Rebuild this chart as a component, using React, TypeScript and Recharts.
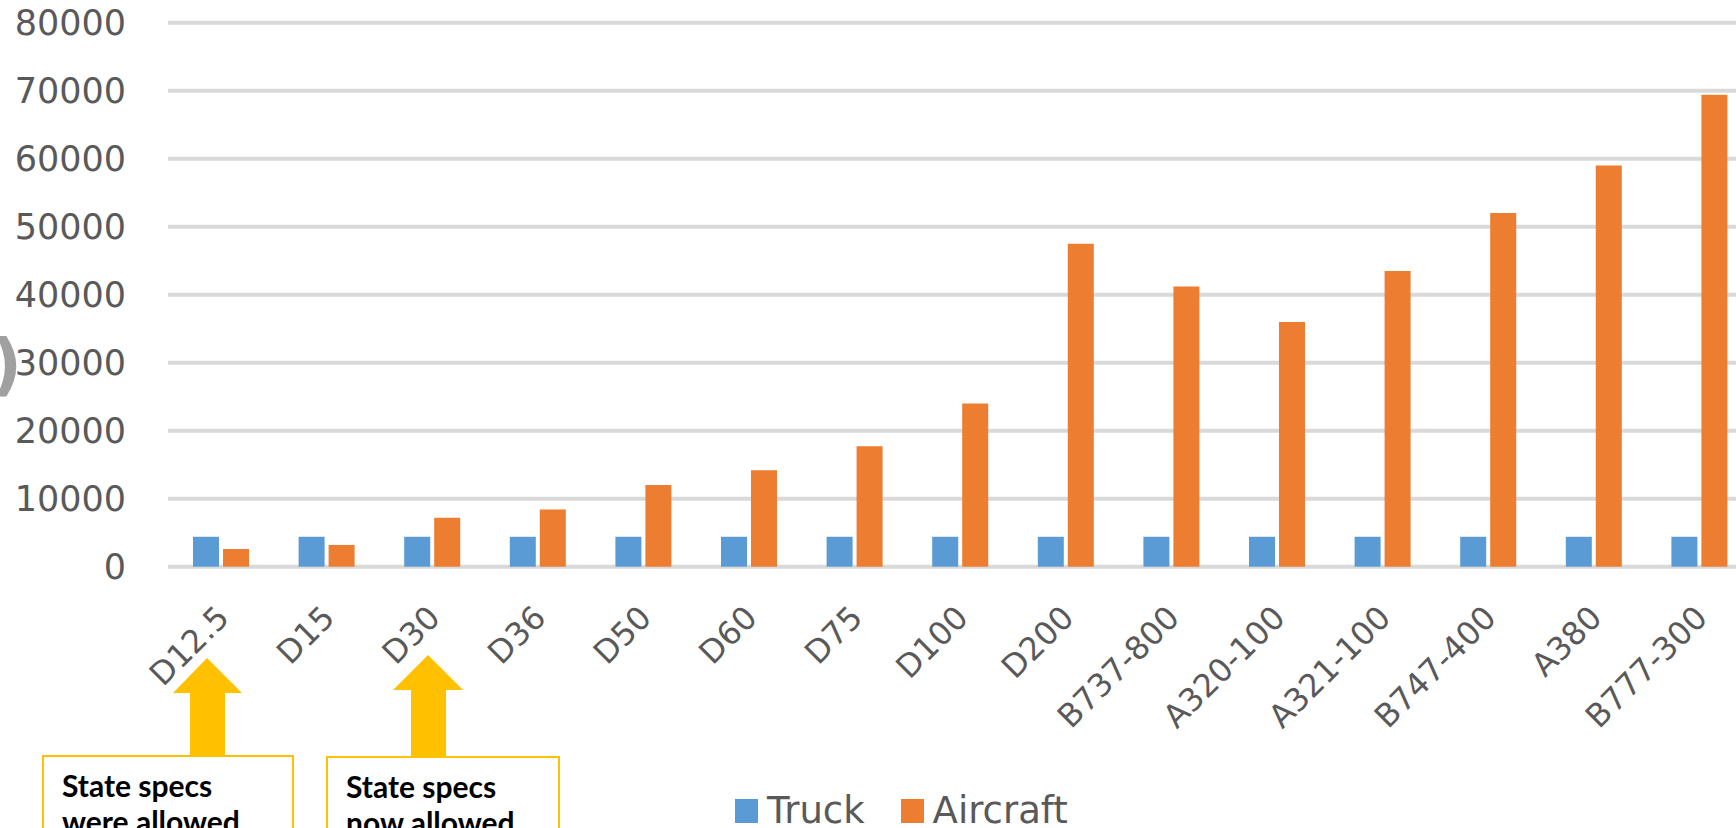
import React from 'react';
import { BarChart, Bar, XAxis, YAxis, CartesianGrid, Legend } from 'recharts';

const categories = ['D12.5', 'D15', 'D30', 'D36', 'D50', 'D60', 'D75', 'D100', 'D200', 'B737-800', 'A320-100', 'A321-100', 'B747-400', 'A380', 'B777-300'];
const truckValues = [4400, 4400, 4400, 4400, 4400, 4400, 4400, 4400, 4400, 4400, 4400, 4400, 4400, 4400, 4400];
const aircraftValues = [2600, 3200, 7200, 8400, 12000, 14200, 17700, 24000, 47500, 41200, 36000, 43500, 52000, 59000, 69400];
const yTicks = [0, 10000, 20000, 30000, 40000, 50000, 60000, 70000, 80000];
const seriesOrder = ['Truck', 'Aircraft'];

const data = categories.map((name, i) => ({ name, Truck: truckValues[i], Aircraft: aircraftValues[i] }));

const FONT = '"DejaVu Sans", sans-serif';
const TEXT = '#595959';

const XTick = (props: any) => {
  const { x, y, payload } = props;
  const ax = x + 10;
  const ay = y + 53;
  return (
    <text
      x={ax}
      y={ay}
      transform={`rotate(-45, ${ax}, ${ay})`}
      textAnchor="end"
      fill={TEXT}
      fontSize={32}
      fontFamily={FONT}
    >
      {payload.value}
    </text>
  );
};

const LegendContent = (props: any) => {
  const items = [...(props.payload || [])].sort(
    (a: any, b: any) => seriesOrder.indexOf(a.value) - seriesOrder.indexOf(b.value)
  );
  return (
    <div style={{ display: 'flex', alignItems: 'center', fontFamily: FONT, fontSize: 37, color: TEXT }}>
      {items.map((p: any, i: number) => (
        <div key={i} style={{ display: 'flex', alignItems: 'center', marginRight: i === 0 ? 36 : 0 }}>
          <span style={{ display: 'inline-block', width: 23, height: 24, background: p.color, marginRight: 9 }} />
          <span style={{ lineHeight: '34px' }}>{p.value}</span>
        </div>
      ))}
    </div>
  );
};

const boxStyle: React.CSSProperties = {
  position: 'absolute',
  border: '2px solid #FFC000',
  background: '#fff',
  boxSizing: 'border-box',
  height: 120,
  padding: '10px 0 0 18px',
  fontFamily: 'Lato, sans-serif',
  fontWeight: 700,
  fontSize: 30,
  lineHeight: '36px',
  color: '#000',
};

export default function App() {
  return (
    <div style={{ position: 'fixed', left: 0, top: 0, width: 1736, height: 828, overflow: 'hidden', background: '#fff' }}>
      <BarChart
        width={1760}
        height={828}
        data={data}
        margin={{ top: 22.7, right: 8, bottom: 0, left: 0 }}
        barSize={26}
        barGap={4}
      >
        <CartesianGrid vertical={false} stroke="#D9D9D9" strokeWidth={4} />
        <XAxis
          dataKey="name"
          interval={0}
          axisLine={false}
          tickLine={false}
          tickSize={0}
          tickMargin={0}
          height={261.3}
          tick={<XTick />}
        />
        <YAxis
          width={168}
          domain={[0, 80000]}
          ticks={yTicks}
          interval={0}
          axisLine={false}
          tickLine={false}
          tickSize={0}
          tickMargin={42}
          tick={{ fill: TEXT, fontSize: 35, fontFamily: FONT }}
        />
        <Legend
          layout="vertical"
          align="center"
          verticalAlign="middle"
          content={<LegendContent />}
          wrapperStyle={{ left: 735, top: 794, width: 520, height: 34 }}
        />
        <Bar dataKey="Truck" fill="#5B9BD5" isAnimationActive={false} />
        <Bar dataKey="Aircraft" fill="#ED7D31" isAnimationActive={false} />
      </BarChart>

      <span style={{ position: 'absolute', left: -9, top: 327, fontFamily: FONT, fontWeight: 700, fontSize: 68, color: '#a0a0a0', lineHeight: '76px' }}>)</span>

      <svg width={1736} height={828} style={{ position: 'absolute', left: 0, top: 0, pointerEvents: 'none' }}>
        <polygon points="207,658 242,693 225,693 225,757 190,757 190,693 173,693" fill="#FFC000" />
        <polygon points="428,655 463,690 446,690 446,758 411,758 411,690 393,690" fill="#FFC000" />
      </svg>

      <div style={{ ...boxStyle, left: 42, top: 755, width: 252 }}>
        <div>State specs</div>
        <div>were allowed</div>
      </div>
      <div style={{ ...boxStyle, left: 326, top: 756, width: 234 }}>
        <div>State specs</div>
        <div>now allowed</div>
      </div>
    </div>
  );
}
